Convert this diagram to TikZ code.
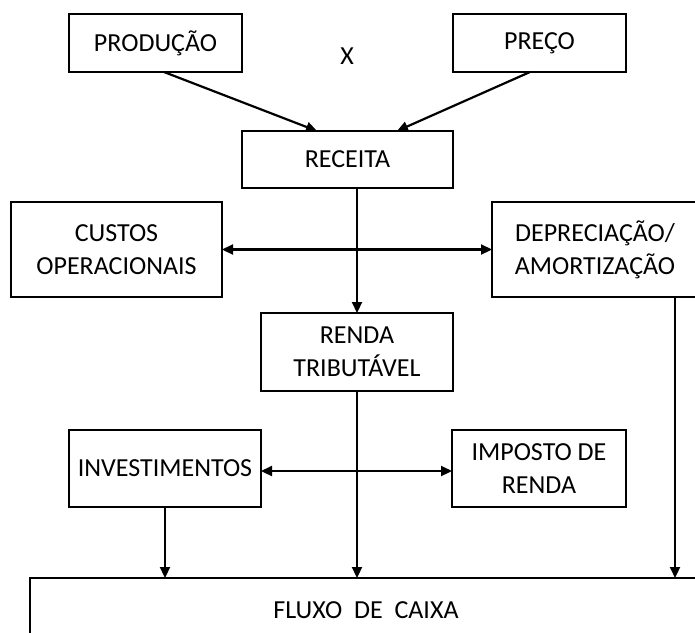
\documentclass[tikz,border=0pt]{standalone}
\usepackage{fontspec}
\setmainfont{Carlito}
\usetikzlibrary{arrows.meta,calc}
\begin{document}
\begin{tikzpicture}[x=1pt,y=-1pt,
  box/.style={draw,line width=1.5pt,inner sep=0pt,outer sep=0pt,align=center,
    font=\fontsize{26}{33}\selectfont},
  arr/.style={line width=2.2pt,-{Triangle[length=11pt,width=10pt]}},
  darr/.style={line width=2.2pt,{Triangle[length=11pt,width=10pt]}-{Triangle[length=11pt,width=10pt]}}]
\useasboundingbox (0,0) rectangle (695,632);
\node[box,minimum width=173pt,minimum height=58pt] (prod) at (155.5,43) {PRODUÇÃO};
\node[box,minimum width=173pt,minimum height=58pt] (preco) at (539.5,43) {PREÇO};
\node[font=\fontsize{26}{33}\selectfont] (x) at (347,56) {X};
\node[box,minimum width=211pt,minimum height=57pt] (receita) at (347.5,159.5) {RECEITA};
\node[box,minimum width=211pt,minimum height=95pt] (custos) at (116.5,249.5) {CUSTOS\\OPERACIONAIS};
\node[box,minimum width=206pt,minimum height=95pt] (deprec) at (595,249.5) {DEPRECIAÇÃO/\\AMORTIZAÇÃO};
\node[box,minimum width=192pt,minimum height=78pt] (renda) at (357,352) {RENDA\\TRIBUTÁVEL};
\node[box,minimum width=192pt,minimum height=77pt] (invest) at (165,468.5) {INVESTIMENTOS};
\node[box,minimum width=174pt,minimum height=77pt] (imposto) at (539,468.5) {IMPOSTO DE\\RENDA};
\node[box,minimum width=672pt,minimum height=64pt] (fluxo) at (366,610) {FLUXO\ \ DE\ \ CAIXA};
% connectors
\draw[arr] ($(prod.south)+(8.5,0)$) -- ($(receita.north)+(-30.5,0)$);
\draw[arr] ($(preco.south)+(-9.5,0)$) -- ($(receita.north)+(49.5,0)$);
\draw[arr] (renda.north |- receita.south) -- (renda.north);
\draw[darr] (custos.east) -- (deprec.west);
\draw[arr] (renda.south) -- (renda.south |- fluxo.north);
\draw[darr] ($(invest.east)+(0,2.5)$) -- ($(imposto.west)+(0,2.5)$);
\coordinate (dep) at ($(deprec.south west)+(183,0)$);
\draw[arr] (dep) -- (dep |- fluxo.north);
\draw[arr] (invest.south) -- (invest.south |- fluxo.north);
\end{tikzpicture}
\end{document}
